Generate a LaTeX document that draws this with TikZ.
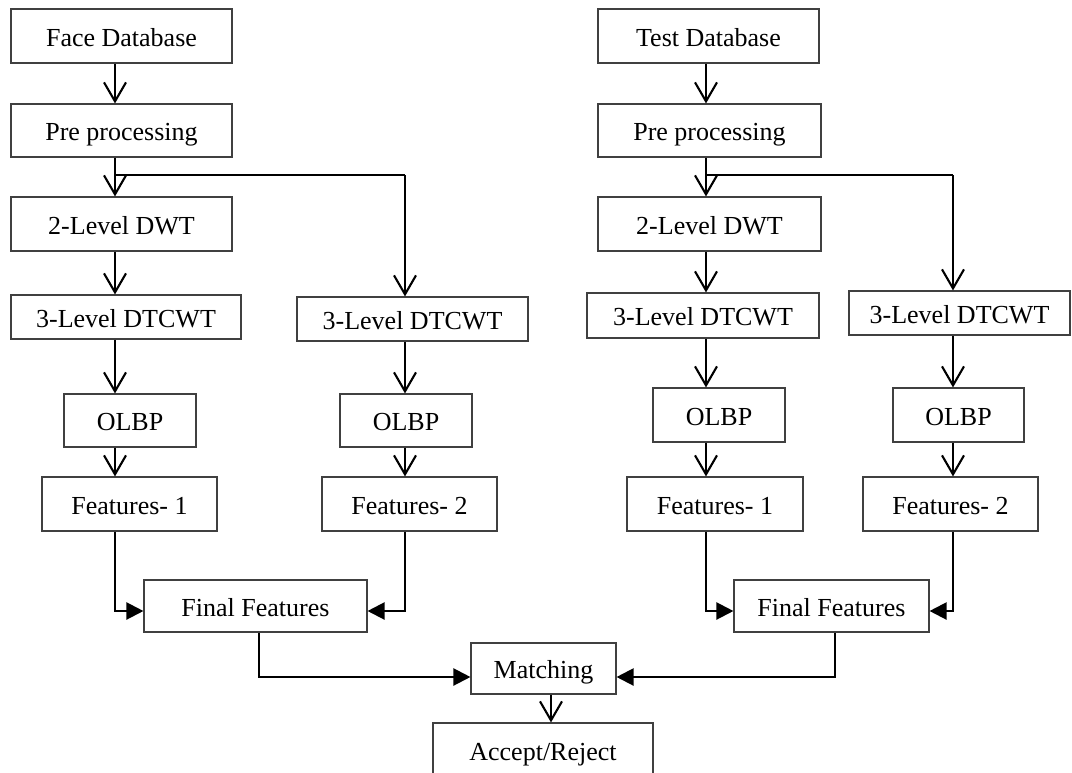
\documentclass[tikz,border=0pt]{standalone}
\usepackage{fontspec}
\setmainfont{Liberation Serif}
\usetikzlibrary{arrows.meta}
\tikzset{
  box/.style={draw=black!75, line width=1.1pt, fill=white, inner sep=0pt,
              text height=21pt, text depth=1pt,
              font=\fontsize{26}{30}\selectfont},
  varr/.style={line width=2.2pt, -{Straight Barb[length=19pt,width=22pt,line width=2.1pt]}},
  farr/.style={line width=2.2pt, -{Triangle[length=17pt,width=17pt]}}
}
\begin{document}
\begin{tikzpicture}[x=1pt,y=-1pt]
\useasboundingbox (0,0) rectangle (1072,772);
% column coordinates
\coordinate (cA) at (115,0);
\coordinate (cB) at (405,0);
\coordinate (cC) at (706,0);
\coordinate (cD) at (953,0);
\coordinate (sL) at (115,175);
\coordinate (sR) at (706,175);
% left chain
\node[box, minimum width=221, minimum height=54] (fd)   at (121.5,36)  {Face Database};
\node[box, minimum width=221, minimum height=53] (ppL)  at (121.5,130.5) {Pre processing};
\node[box, minimum width=221, minimum height=54] (dwtL) at (121.5,224) {2-Level DWT};
\node[box, minimum width=230, minimum height=44] (dtL1) at (126,317)   {3-Level DTCWT};
\node[box, minimum width=231, minimum height=44] (dtL2) at (412.5,319) {3-Level DTCWT};
\node[box, minimum width=132, minimum height=53] (olL1) at (130,420.5) {OLBP};
\node[box, minimum width=132, minimum height=53] (olL2) at (406,420.5) {OLBP};
\node[box, minimum width=175, minimum height=54] (f1L)  at (129.5,504) {Features- 1};
\node[box, minimum width=175, minimum height=54] (f2L)  at (409.5,504) {Features- 2};
\node[box, minimum width=223, minimum height=52] (ffL)  at (255.5,606) {Final Features};
% right chain
\node[box, minimum width=221, minimum height=54] (td)   at (708.5,36)  {Test Database};
\node[box, minimum width=223, minimum height=53] (ppR)  at (709.5,130.5) {Pre processing};
\node[box, minimum width=223, minimum height=54] (dwtR) at (709.5,224) {2-Level DWT};
\node[box, minimum width=232, minimum height=45] (dtR1) at (703,315.5) {3-Level DTCWT};
\node[box, minimum width=221, minimum height=44] (dtR2) at (959.5,313) {3-Level DTCWT};
\node[box, minimum width=132, minimum height=54] (olR1) at (719,415)   {OLBP};
\node[box, minimum width=131, minimum height=54] (olR2) at (958.5,415) {OLBP};
\node[box, minimum width=176, minimum height=54] (f1R)  at (715,504)   {Features- 1};
\node[box, minimum width=175, minimum height=54] (f2R)  at (950.5,504) {Features- 2};
\node[box, minimum width=195, minimum height=52] (ffR)  at (831.5,606) {Final Features};
% bottom
\node[box, minimum width=145, minimum height=51] (match) at (543.5,668.5) {Matching};
\node[box, minimum width=220, minimum height=54] (acc)   at (543,750)   {Accept/Reject};
% left connectors
\draw[varr] (fd.south -| cA) -- (ppL.north -| cA);
\draw[varr] (ppL.south -| cA) -- (dwtL.north -| cA);
\draw[line width=2.2pt] (sL) -- (sL -| cB);
\draw[varr] (sL -| cB) -- (dtL2.north -| cB);
\draw[varr] (dwtL.south -| cA) -- (dtL1.north -| cA);
\draw[varr] (dtL1.south -| cA) -- (olL1.north -| cA);
\draw[varr] (olL1.south -| cA) -- (f1L.north -| cA);
\draw[varr] (dtL2.south -| cB) -- (olL2.north -| cB);
\draw[varr] (olL2.south -| cB) -- (f2L.north -| cB);
\draw[farr] (f1L.south -| cA) |- ([yshift=-5pt]ffL.west);
\draw[farr] (f2L.south -| cB) |- ([yshift=-5pt]ffL.east);
% right connectors
\draw[varr] (td.south -| cC) -- (ppR.north -| cC);
\draw[varr] (ppR.south -| cC) -- (dwtR.north -| cC);
\draw[line width=2.2pt] (sR) -- (sR -| cD);
\draw[varr] (sR -| cD) -- (dtR2.north -| cD);
\draw[varr] (dwtR.south -| cC) -- (dtR1.north -| cC);
\draw[varr] (dtR1.south -| cC) -- (olR1.north -| cC);
\draw[varr] (olR1.south -| cC) -- (f1R.north -| cC);
\draw[varr] (dtR2.south -| cD) -- (olR2.north -| cD);
\draw[varr] (olR2.south -| cD) -- (f2R.north -| cD);
\draw[farr] (f1R.south -| cC) |- ([yshift=-5pt]ffR.west);
\draw[farr] (f2R.south -| cD) |- ([yshift=-5pt]ffR.east);
% to matching
\draw[farr] ([xshift=3.5pt]ffL.south) |- ([yshift=-8.5pt]match.west);
\draw[farr] ([xshift=3.5pt]ffR.south) |- ([yshift=-8.5pt]match.east);
\draw[varr] ([xshift=7.5pt]match.south) -- ([xshift=8pt]acc.north);
\end{tikzpicture}
\end{document}
